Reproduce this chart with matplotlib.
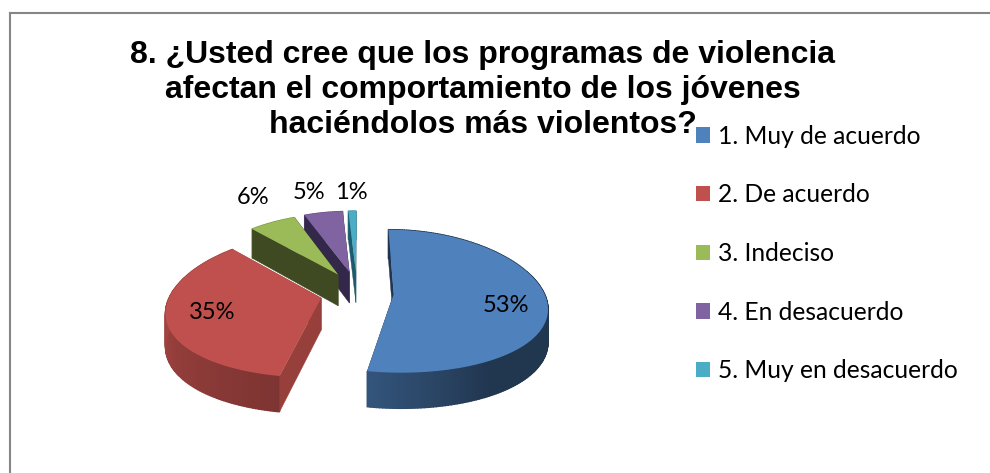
import matplotlib as mpl
mpl.use('Agg')
import matplotlib.pyplot as plt
from matplotlib.patches import Patch
import numpy as np

# chart data
categories = ['1. Muy de acuerdo', '2. De acuerdo', '3. Indeciso', '4. En desacuerdo', '5. Muy en desacuerdo']
values = [53, 35, 6, 5, 1]
labels = ['53%', '35%', '6%', '5%', '1%']
label_x = [506, 212, 253, 309, 351]
label_y = [305, 312, 197, 192, 192]

top_colors = ['#4f81bd', '#c0504d', '#9bbb59', '#8064a2', '#4bacc6']
cut_colors = ['#1f3550', '#963f3b', '#3f4a22', '#33274a', '#1d5a6b']

title = '8. ¿Usted cree que los programas de violencia\nafectan el comportamiento de los jóvenes\nhaciéndolos más violentos?'

# pie geometry, in pixels of the picture
cx, cy = 357, 292
rx, ry = 150, 70.4
persp_x, persp_y = 0.17, 0.1
depth = 32
explode_x, explode_y = 0.245, 0.30


def project(u, v, z=0):
    # flat disc coords -> picture coords, far side a bit smaller
    sx = 1 / (1 + persp_x * v)
    sy = 1 / (1 + persp_y * v)
    return cx + rx * u * sx, cy - ry * v * sy + depth * z * sy


def wall_shade(theta):
    return np.interp(theta, [90, 150, 190, 270], [0.42, 0.42, 0.65, 0.85])


def darker(color, f):
    return tuple(c * f for c in mpl.colors.to_rgb(color))


def draw_cut(ax, ou, ov, uu, vv, color):
    x0, y0 = project(ou, ov)
    x1, y1 = project(uu, vv)
    x2, y2 = project(uu, vv, 1)
    x3, y3 = project(ou, ov, 1)
    ax.fill([x0, x1, x2, x3], [y0, y1, y2, y3], color=color, lw=0.3)


fig = plt.figure(figsize=(9.9, 4.73), dpi=100)
ax = fig.add_axes([0, 0, 1, 1])
ax.set_xlim(0, 990)
ax.set_ylim(473, 0)
ax.axis('off')

# chart border
ax.plot([10, 10], [473, 13], color='#868686', lw=1.5)
ax.plot([10, 990], [13, 13], color='#868686', lw=1.5)

# slice angles, clockwise from the top
edges = np.cumsum([0] + values) / sum(values) * 360

# back slices first so the front ones cover them
for i in [4, 3, 2, 1, 0]:
    t0, t1 = edges[i], edges[i + 1]
    mid = np.radians((t0 + t1) / 2)
    ou, ov = explode_x * np.sin(mid), explode_y * np.cos(mid)
    th = np.linspace(t0, t1, max(int(t1 - t0) + 2, 3))
    u = ou + np.sin(np.radians(th))
    v = ov + np.cos(np.radians(th))

    # closing cut goes under the wall
    draw_cut(ax, ou, ov, u[-1], v[-1], cut_colors[i])

    # outer wall, one small quad per step so the shade changes along it
    for j in range(len(th) - 1):
        xa, ya = project(u[j], v[j])
        xb, yb = project(u[j + 1], v[j + 1])
        xc, yc = project(u[j + 1], v[j + 1], 1)
        xd, yd = project(u[j], v[j], 1)
        c = darker(top_colors[i], wall_shade((th[j] + th[j + 1]) / 2))
        ax.fill([xa, xb, xc, xd], [ya, yb, yc, yd], color=c, lw=1)

    # opening cut goes over it
    draw_cut(ax, ou, ov, u[0], v[0], cut_colors[i])

    # top face
    xs, ys = project(np.r_[ou, u], np.r_[ov, v])
    ax.fill(xs, ys, color=top_colors[i], lw=0)

for lab, lx, ly in zip(labels, label_x, label_y):
    ax.text(lx, ly, lab, fontsize=17, family='Lato', color='black', ha='center', va='center')

ax.text(483, 90, title, fontsize=23, family='Liberation Sans', fontweight='bold',
        ha='center', va='center', linespacing=1.2, color='black')

handles = [Patch(facecolor=c, edgecolor='none') for c in top_colors]
ax.legend(handles, categories, loc='center left', bbox_to_anchor=(696 / 990, 1 - 253.5 / 473),
          frameon=False, prop={'family': 'Lato', 'size': 17.7}, handlelength=0.58, handleheight=0.58,
          handletextpad=0.3, labelspacing=1.45, borderpad=0, borderaxespad=0)

fig.savefig('out.png', dpi=100)
